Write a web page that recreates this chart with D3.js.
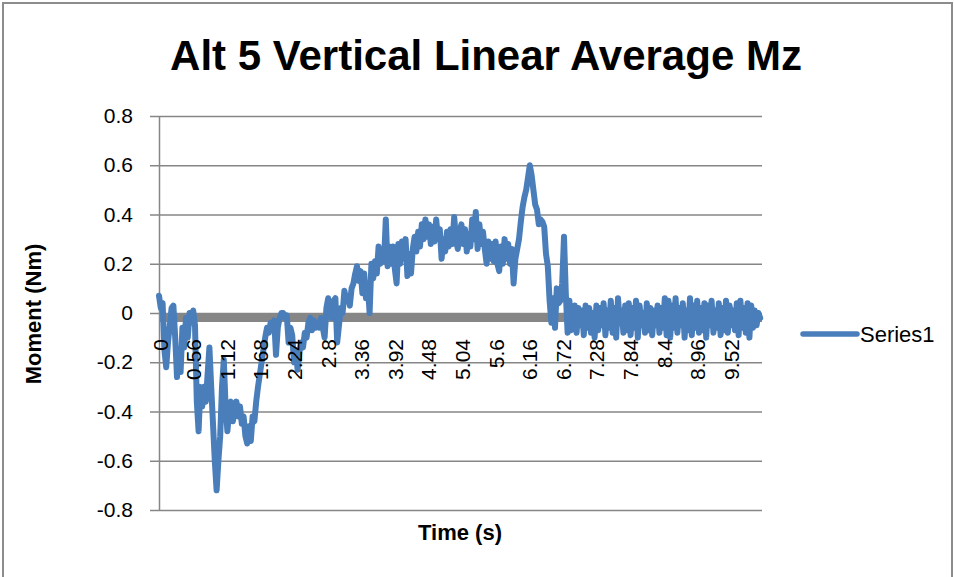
<!DOCTYPE html>
<html>
<head>
<meta charset="utf-8">
<script src="https://cdn.jsdelivr.net/npm/d3@7"></script>
<style>
  html, body { margin: 0; padding: 0; background: #fff; }
  svg { display: block; font-family: "Liberation Sans", Arial, sans-serif; }
</style>
</head>
<body>
<svg id="chart" width="954" height="577"></svg>
<script>
const title = "Alt 5 Vertical Linear Average Mz";
const xTitle = "Time (s)";
const yTitle = "Moment (Nm)";
const seriesName = "Series1";

const yTicks = [0.8, 0.6, 0.4, 0.2, 0, -0.2, -0.4, -0.6, -0.8];
const yTickLabels = ["0.8", "0.6", "0.4", "0.2", "0", "-0.2", "-0.4", "-0.6", "-0.8"];

const xTicks = [0, 0.56, 1.12, 1.68, 2.24, 2.8, 3.36, 3.92, 4.48, 5.04, 5.6, 6.16, 6.72, 7.28, 7.84, 8.4, 8.96, 9.52];
const xTickLabels = ["0", "0.56", "1.12", "1.68", "2.24", "2.8", "3.36", "3.92", "4.48", "5.04", "5.6", "6.16", "6.72", "7.28", "7.84", "8.4", "8.96", "9.52"];

// sample interval of the values below (s)
const dt = 0.03;
const values = [
  0.07, 0.02, 0.04, -0.15, -0.22, -0.12, -0.05, 0.02, 0.03, -0.1,
  -0.26, -0.15, -0.24, -0.06, -0.14, -0.02, -0.1, 0.0, -0.04, 0.01,
  -0.05, -0.36, -0.48, -0.3, -0.38, -0.3, -0.36, -0.25, -0.14, -0.3,
  -0.45, -0.6, -0.72, -0.6, -0.5, -0.3, -0.19, -0.38, -0.48, -0.4,
  -0.36, -0.44, -0.4, -0.36, -0.42, -0.38, -0.45, -0.42, -0.5, -0.53,
  -0.46, -0.52, -0.42, -0.44, -0.36, -0.3, -0.25, -0.2, -0.15, -0.1,
  -0.06, -0.08, -0.04, -0.06, -0.03, -0.17, -0.06, -0.02, 0.0, 0.0,
  -0.02, -0.01, -0.12, -0.06, -0.09, -0.2, -0.15, -0.23, -0.16, -0.12,
  -0.14, -0.08, -0.1, -0.04, -0.02, -0.07, -0.03, -0.06, -0.04, -0.06,
  -0.02, -0.06, -0.1, 0.02, 0.06, -0.01, -0.02, 0.05, 0.06, -0.12,
  -0.05, 0.02, 0.0, 0.09, 0.05, 0.07, 0.03, 0.1, 0.12, 0.16,
  0.19, 0.13, 0.17, 0.08, 0.16, 0.06, 0.12, 0.0, 0.2, 0.14,
  0.21, 0.16, 0.27, 0.2, 0.26, 0.21, 0.38, 0.19, 0.27, 0.2,
  0.27, 0.18, 0.12, 0.28, 0.2, 0.29, 0.22, 0.3, 0.15, 0.24,
  0.16, 0.26, 0.31, 0.25, 0.33, 0.27, 0.36, 0.3, 0.38, 0.31,
  0.36, 0.28, 0.35, 0.29, 0.38, 0.3, 0.34, 0.22, 0.3, 0.25,
  0.33, 0.27, 0.34, 0.28, 0.39, 0.3, 0.26, 0.33, 0.36, 0.28,
  0.34, 0.25, 0.32, 0.27, 0.38, 0.3, 0.41, 0.26, 0.36, 0.28,
  0.33, 0.26, 0.2, 0.29, 0.22, 0.28, 0.21, 0.29, 0.2, 0.17,
  0.27, 0.2, 0.3, 0.22, 0.28, 0.2, 0.26, 0.12, 0.22, 0.26,
  0.3, 0.37, 0.43, 0.47, 0.5, 0.55, 0.6, 0.56, 0.5, 0.44,
  0.42, 0.36, 0.38, 0.37, 0.35, 0.24, 0.19, 0.05, -0.04, 0.06,
  -0.06, 0.1, 0.04, 0.05, 0.12, 0.31, 0.08, -0.08, 0.05, -0.07,
  -0.06, 0.03, -0.08, 0.02, -0.05, 0.01, -0.09, 0.03, -0.06, 0.02,
  -0.08, 0.0, -0.1, 0.03, -0.07, 0.02, -0.05, 0.04, -0.09, 0.01,
  -0.06, 0.05, -0.08, 0.02, -0.1, 0.06, -0.04, 0.01, -0.08, 0.03,
  -0.07, 0.04, -0.09, 0.02, -0.06, 0.05, -0.1, 0.03, -0.05, 0.0,
  -0.08, 0.04, -0.07, 0.02, -0.09, 0.01, -0.05, 0.03, -0.08, 0.02,
  -0.06, 0.06, -0.09, 0.05, -0.1, 0.03, -0.06, 0.06, -0.08, 0.02,
  -0.05, 0.04, -0.1, 0.01, -0.07, 0.06, -0.09, 0.03, -0.06, 0.05,
  -0.08, 0.02, -0.07, 0.04, -0.1, 0.03, -0.05, 0.05, -0.08, 0.01,
  -0.06, 0.04, -0.09, 0.02, -0.07, 0.05, -0.08, 0.03, -0.05, 0.01,
  -0.07, 0.04, -0.09, 0.05, -0.06, 0.02, -0.08, 0.04, -0.1, 0.03,
  -0.06, 0.01, -0.05, 0.0, -0.02
];

const W = 954, H = 577;
const plot = { left: 159, right: 762, top: 116, bottom: 510 };
const lineColor = "#4a7ebb";
const gridColor = "#868686";

const svg = d3.select("#chart");

// outer chart border
svg.append("rect")
  .attr("x", 3).attr("y", 3).attr("width", 949).attr("height", 620)
  .attr("fill", "none").attr("stroke", "#8c8c8c").attr("stroke-width", 2);

const x = d3.scaleLinear().domain([0, 10.05]).range([plot.left, plot.right]);
const y = d3.scaleLinear().domain([-0.8, 0.8]).range([plot.bottom, plot.top]);

// gridlines
svg.append("g")
  .attr("transform", `translate(${plot.left},0)`)
  .call(d3.axisLeft(y).tickValues(yTicks).tickSize(-(plot.right - plot.left)).tickFormat(""))
  .call(g => g.select(".domain").remove())
  .call(g => g.selectAll("line").attr("stroke", gridColor).attr("stroke-width", 1.5));

// y axis with tick marks and labels
svg.append("g")
  .attr("transform", `translate(${plot.left},0)`)
  .call(d3.axisLeft(y).tickValues(yTicks).tickSize(9).tickSizeOuter(0).tickPadding(17)
    .tickFormat((d, i) => yTickLabels[i]))
  .call(g => g.select(".domain").attr("stroke", gridColor).attr("stroke-width", 1.5))
  .call(g => g.selectAll(".tick line").attr("stroke", gridColor).attr("stroke-width", 1.5))
  .call(g => g.selectAll("text").attr("fill", "#000").attr("font-size", 21)
    .attr("font-family", "Liberation Sans, Arial, sans-serif"));

// horizontal (category) axis line at zero - thick grey
svg.append("line")
  .attr("x1", plot.left).attr("x2", plot.right)
  .attr("y1", y(0) + 4.5).attr("y2", y(0) + 4.5)
  .attr("stroke", gridColor).attr("stroke-width", 9);

// series line
const pts = values.map((v, i) => [i * dt, v]);
const line = d3.line().x(d => x(d[0])).y(d => y(d[1]));
svg.append("path")
  .datum(pts)
  .attr("d", line)
  .attr("fill", "none")
  .attr("stroke", lineColor)
  .attr("stroke-width", 6)
  .attr("stroke-linejoin", "round")
  .attr("stroke-linecap", "round");

// x tick labels (rotated), placed just below the axis, drawn over the series
const xLab = svg.append("g");
xLab.selectAll("text")
  .data(xTicks)
  .join("text")
  .attr("transform", d => `translate(${x(d) + 1},${y(0) + 26}) rotate(-90)`)
  .attr("text-anchor", "end")
  .attr("dominant-baseline", "central")
  .attr("font-size", 21)
  .attr("fill", "#000")
  .text((d, i) => xTickLabels[i]);

// title
svg.append("text")
  .attr("x", 486).attr("y", 70)
  .attr("text-anchor", "middle")
  .attr("font-size", 42).attr("font-weight", "bold")
  .attr("fill", "#000")
  .text(title);

// axis titles
svg.append("text")
  .attr("x", 460).attr("y", 540)
  .attr("text-anchor", "middle")
  .attr("font-size", 22).attr("font-weight", "bold")
  .attr("fill", "#000")
  .text(xTitle);

svg.append("text")
  .attr("transform", `translate(41,314) rotate(-90)`)
  .attr("text-anchor", "middle")
  .attr("font-size", 22).attr("font-weight", "bold")
  .attr("fill", "#000")
  .text(yTitle);

// legend
const lg = svg.append("g");
lg.append("line")
  .attr("x1", 803).attr("x2", 857).attr("y1", 334).attr("y2", 334)
  .attr("stroke", lineColor).attr("stroke-width", 5.5).attr("stroke-linecap", "round");
lg.append("text")
  .attr("x", 860).attr("y", 342)
  .attr("font-size", 22).attr("fill", "#000")
  .text(seriesName);
</script>
</body>
</html>
